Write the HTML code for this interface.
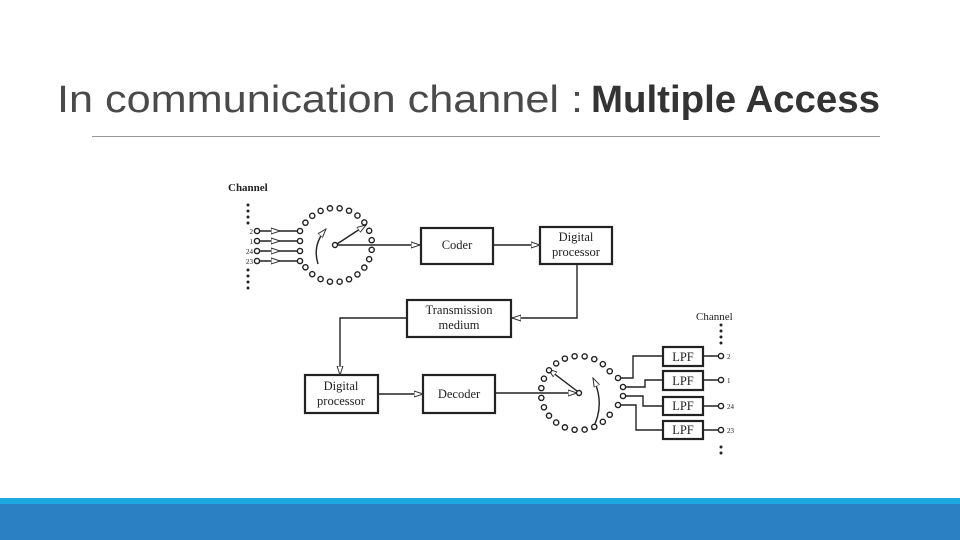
<!DOCTYPE html>
<html><head><meta charset="utf-8"><style>
body{margin:0;width:960px;height:540px;background:#fff;overflow:hidden;position:relative;font-family:"Liberation Sans",sans-serif}
</style></head><body>
<svg id="s" width="960" height="540" viewBox="0 0 960 540" xmlns="http://www.w3.org/2000/svg" style="position:absolute;left:0;top:0">
<defs><marker id="a" markerWidth="10" markerHeight="8" refX="9" refY="4" orient="auto" markerUnits="userSpaceOnUse"><path d="M0,1 L9,4 L0,7 Z" fill="#fff" stroke="#333" stroke-width="1"/></marker></defs>
<text x="57" y="112" font-family="Liberation Sans" font-size="38" fill="#4a4a4a" textLength="526" lengthAdjust="spacingAndGlyphs">In communication channel :</text>
<text x="591" y="112" font-family="Liberation Sans" font-weight="bold" font-size="38" fill="#333" textLength="289" lengthAdjust="spacingAndGlyphs">Multiple Access</text>
<line x1="92" y1="136.5" x2="880" y2="136.5" stroke="#999" stroke-width="1"/>
<rect x="0" y="498" width="960" height="6" fill="#1fa8df"/>
<rect x="0" y="504" width="960" height="36" fill="#2a80c2"/>
<g font-family="Liberation Serif" fill="#222" stroke="none">
<text x="228" y="191" font-size="11" font-weight="bold">Channel</text>
<text x="696" y="320" font-size="11">Channel</text>
<g font-size="7" text-anchor="end"><text x="253" y="234">2</text><text x="253" y="244">1</text><text x="253" y="254">24</text><text x="253" y="264">23</text></g>
<g font-size="7"><text x="727" y="359">2</text><text x="727" y="383">1</text><text x="727" y="409">24</text><text x="727" y="433">23</text></g>
<g font-size="12.5" text-anchor="middle">
<text x="457" y="249">Coder</text>
<text x="576" y="241">Digital</text><text x="576" y="256">processor</text>
<text x="459" y="314">Transmission</text><text x="459" y="329">medium</text>
<text x="341" y="390">Digital</text><text x="341" y="405">processor</text>
<text x="459" y="398">Decoder</text>
<text x="683" y="361">LPF</text><text x="683" y="385">LPF</text><text x="683" y="410">LPF</text><text x="683" y="434">LPF</text>
</g></g>
<g fill="none" stroke="#222" stroke-width="1.4">
<rect x="421" y="228" width="72" height="36" stroke-width="2.2"/>
<rect x="540" y="227" width="72" height="37" stroke-width="2.2"/>
<rect x="407" y="300" width="104" height="37" stroke-width="2.2"/>
<rect x="305" y="375" width="73" height="38" stroke-width="2.2"/>
<rect x="423" y="375" width="72" height="38" stroke-width="2.2"/>
<rect x="663" y="347" width="40" height="19" stroke-width="2.2"/>
<rect x="663" y="371" width="40" height="19" stroke-width="2.2"/>
<rect x="663" y="397" width="40" height="18" stroke-width="2.2"/>
<rect x="663" y="421" width="40" height="18" stroke-width="2.2"/>
<path d="M337,245 H420" marker-end="url(#a)"/>
<path d="M493,245 H540" marker-end="url(#a)"/>
<path d="M577,264 V318 H512" marker-end="url(#a)"/>
<path d="M407,318 H340 V375" marker-end="url(#a)"/>
<path d="M378,394 H423" marker-end="url(#a)"/>
<path d="M495,393 H577" marker-end="url(#a)"/>
<path d="M337,244 L366,225" marker-end="url(#a)"/>
<path d="M577,391 L548,369" marker-end="url(#a)"/>
<path d="M318,264 Q312,245 326,229" marker-end="url(#a)"/>
<path d="M592,430 Q606,405 593,378" marker-end="url(#a)"/>
<path d="M620,378 H633 V356 H663"/>
<path d="M625,387 H645 V380 H663"/>
<path d="M625,396 H643 V406 H663"/>
<path d="M620,405 H636 V430 H663"/>
<path d="M703,356 H719 M703,380 H719 M703,406 H719 M703,430 H719"/>
</g>
<g id="dots" fill="#fff" stroke="#222" stroke-width="1.4"></g>
</svg>
<script>
var g=document.getElementById('dots'),s=document.getElementById('s'),ns='http://www.w3.org/2000/svg';
function c(x,y,r){var e=document.createElementNS(ns,'circle');e.setAttribute('cx',x);e.setAttribute('cy',y);e.setAttribute('r',r||2.6);g.appendChild(e);}
function ln(x1,y1,x2,y2,arrow){var e=document.createElementNS(ns,'line');e.setAttribute('x1',x1);e.setAttribute('y1',y1);e.setAttribute('x2',x2);e.setAttribute('y2',y2);e.setAttribute('stroke','#222');e.setAttribute('stroke-width','1.4');if(arrow)e.setAttribute('marker-end','url(#a)');s.insertBefore(e,g);}
function P(cx,cy,rx,ry,a){var r=a*Math.PI/180;c(cx+rx*Math.cos(r),cy+ry*Math.sin(r));}
var n=20,i;
for(i=0;i<n;i++){P(335,245,37,37,-143+286*i/(n-1));}
for(i=0;i<n;i++){P(579,393,38,37,36+288*i/(n-1));}
c(335,245,2.5);c(579,393,2.5);
var ys=[231,241,251,261];
ys.forEach(function(y){ln(259,y,280,y,true);ln(280,y,298,y);c(257,y);c(300,y);});
[[618,378],[623,387],[623,396],[618,405]].forEach(function(p){c(p[0],p[1]);});
[356,380,406,430].forEach(function(y){c(721,y);});
[205,211,217,223,270,276,282,288].forEach(function(y){c(248,y,0.8);});
[325,331,337,343,447,453].forEach(function(y){c(721,y,0.8);});
</script>
</body></html>
